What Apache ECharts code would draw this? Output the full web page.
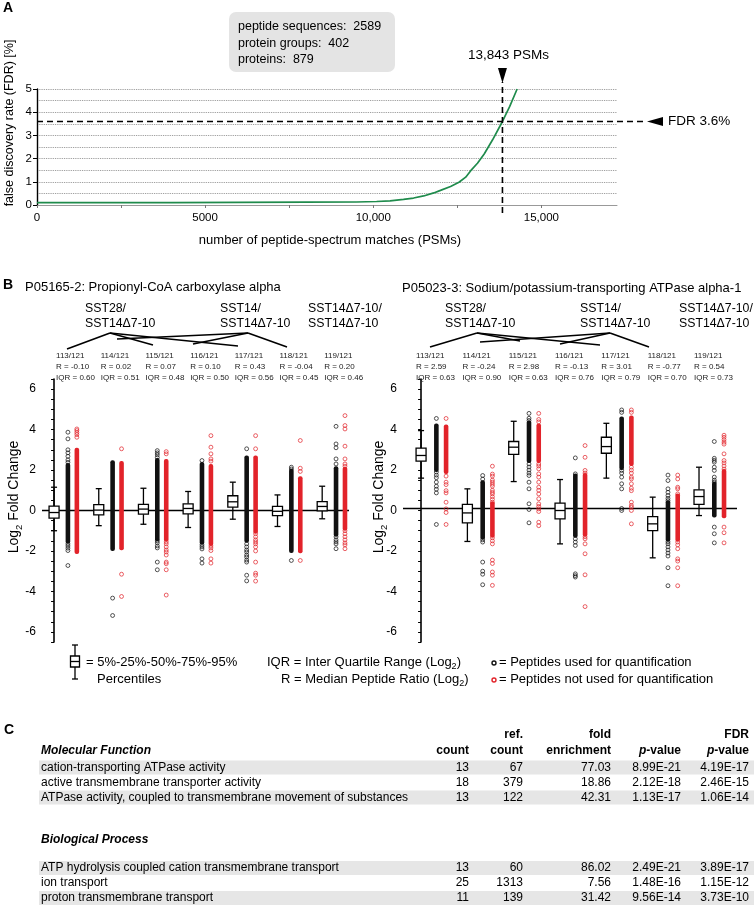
<!DOCTYPE html>
<html><head><meta charset="utf-8">
<script src="https://cdn.jsdelivr.net/npm/echarts@6.0.0/dist/echarts.min.js"></script>
<style>html,body{margin:0;padding:0;background:#fff;}#chart{width:754px;height:913px;}</style>
</head><body><div id="chart"></div>
<script>
// ================= Panel A data =================
const psmX = [0, 2000, 4000, 6000, 8000, 9500, 10100, 10500, 10900, 11200, 11500, 11800, 12000, 12300, 12550, 12750, 12900, 13100, 13300, 13550, 13843, 14060, 14280];
const fdrY = [0.10, 0.10, 0.10, 0.11, 0.12, 0.13, 0.15, 0.18, 0.24, 0.30, 0.39, 0.52, 0.63, 0.80, 0.98, 1.20, 1.48, 1.80, 2.20, 2.81, 3.60, 4.25, 5.00];
const psmCutoff = 13843;
const fdrCutoff = 3.6;
const psmCutoffLabel = '13,843 PSMs';
const fdrCutoffLabel = 'FDR 3.6%';
const summaryLines = ['peptide sequences:  2589', 'protein groups:  402', 'proteins:  879'];
const psmTickLabels = {0: '0', 5000: '5000', 10000: '10,000', 15000: '15,000'};

// ================= Panel B data =================
const channels = ['113/121', '114/121', '115/121', '116/121', '117/121', '118/121', '119/121'];
const leftTitle = 'P05165-2: Propionyl-CoA carboxylase alpha';
const rightTitle = 'P05023-3: Sodium/potassium-transporting ATPase alpha-1';
const ratioHeaders = [['SST28/', 'SST14\u03947-10'], ['SST14/', 'SST14\u03947-10'], ['SST14\u03947-10/', 'SST14\u03947-10']];
const leftR = ['-0.10', '0.02', '0.07', '0.10', '0.43', '-0.04', '0.20'];
const leftIQR = ['0.60', '0.51', '0.48', '0.50', '0.56', '0.45', '0.46'];
const rightR = ['2.59', '-0.24', '2.98', '-0.13', '3.01', '-0.77', '0.54'];
const rightIQR = ['0.63', '0.90', '0.63', '0.76', '0.79', '0.70', '0.73'];
const log2Ticks = [-6, -4, -2, 0, 2, 4, 6];
const zeroLeft = 0;
const zeroRight = 0.1;
// [5%, 25%, 50%, 75%, 95%]
const leftBox = [
  [-1.00, -0.38, -0.10, 0.22, 1.15],
  [-0.75, -0.22, 0.02, 0.29, 1.08],
  [-0.68, -0.18, 0.07, 0.30, 1.10],
  [-0.84, -0.17, 0.10, 0.33, 0.94],
  [-0.43, 0.17, 0.43, 0.73, 1.40],
  [-0.79, -0.25, -0.04, 0.20, 0.77],
  [-0.41, -0.02, 0.20, 0.44, 1.20]
];
const rightBox = [
  [1.60, 2.44, 2.72, 3.08, 3.95],
  [-1.53, -0.61, -0.12, 0.30, 1.07],
  [1.43, 2.77, 3.13, 3.41, 4.41],
  [-1.65, -0.41, 0.00, 0.36, 1.53],
  [1.60, 2.83, 3.16, 3.62, 4.31],
  [-2.34, -0.99, -0.66, -0.30, 0.66],
  [-0.25, 0.30, 0.69, 1.02, 2.14]
];
// dense runs of overlapping peptides [low, high]
const leftUsedDense = [[-1.55, 2.25], [-1.9, 2.38], [-1.42, 2.5], [-1.6, 2.3], [-1.5, 2.62], [-2.0, 1.97], [-1.2, 2.09]];
const leftNotDense = [[-2.05, 3.0], [-1.87, 2.35], [-1.45, 2.45], [-1.65, 2.2], [-1.05, 2.62], [-2.02, 1.6], [-0.9, 2.06]];
const rightUsedDense = [[2.0, 4.2], [-1.35, 1.4], [2.45, 4.35], [-1.25, 1.73], [2.1, 4.55], [-1.45, 0.41], [-0.25, 1.32]];
const rightNotDense = [[1.9, 4.15], [-1.25, 0.35], [2.45, 4.2], [-1.2, 1.75], [2.3, 4.6], [-1.45, 0.74], [-0.28, 1.95]];
// separate peptides
const leftUsedPts = [
  [3.87, 3.54, 3.0, 2.85, 2.68, 2.5, 2.38, -1.65, -1.75, -1.86, -1.98, -2.72],
  [-4.33, -5.19],
  [2.96, 2.85, 2.75, 2.62, -1.5, -1.6, -1.75, -1.85, -2.55, -2.93],
  [2.47, -1.7, -1.8, -1.9, -2.39, -2.6],
  [3.05, -1.65, -1.8, -1.95, -2.05, -2.2, -2.3, -2.45, -2.55, -3.2, -3.48],
  [2.14, 2.05, -2.47],
  [4.16, 3.29, 3.1, 2.55, 2.3, -1.3, -1.45, -1.55, -1.65, -1.89]
];
const leftNotPts = [
  [4.03, 3.95, 3.85, 3.75, 3.62],
  [3.05, -3.15, -4.25],
  [2.91, 2.8, -1.55, -1.65, -1.8, -1.95, -2.05, -2.2, -2.55, -2.63, -2.93, -4.18],
  [3.7, 3.13, 2.8, 2.55, 2.44, -1.75, -1.85, -1.98, -2.39, -2.6],
  [3.7, 3.05, -1.15, -1.3, -1.45, -1.55, -1.65, -1.8, -2.0, -2.55, -3.1, -3.2, -3.49],
  [3.46, 2.09, 1.93, -2.47],
  [4.69, 4.2, 4.03, 3.18, 2.55, 2.3, 2.19, -1.0, -1.15, -1.3, -1.45, -1.6, -1.7, -1.89]
];
const rightUsedPts = [
  [4.55, 1.9, 1.75, 1.62, 1.4, 1.2, 1.05, 0.87, -0.69],
  [1.73, 1.55, -1.45, -1.56, -2.55, -3.0, -3.15, -3.67],
  [4.8, 4.56, 4.45, 2.3, 2.15, 2.0, 1.85, 1.73, 1.4, 1.07, 0.33, 0.05, -0.61],
  [2.6, 1.81, -1.4, -1.56, -1.73, -3.13, -3.22, -3.29],
  [4.97, 4.85, 1.98, 1.85, 1.65, 1.32, 1.07, 0.1, 0.0],
  [1.75, 1.48, 1.07, 0.9, 0.74, 0.6, 0.49, -1.55, -1.65, -1.8, -1.95, -2.1, -2.25, -2.83, -3.72],
  [3.41, 2.58, 2.48, 2.39, 2.14, 1.98, 1.65, 1.5, 1.4, -0.82, -1.15, -1.6]
];
const rightNotPts = [
  [4.55, 1.7, 1.4, 1.28, 0.98, 0.87, 0.41, 0.08, -0.1, -0.69],
  [2.19, 1.8, 1.7, 1.5, 1.4, 1.3, 1.2, 1.0, 0.9, 0.82, 0.68, 0.55, 0.41, -1.35, -1.5, -1.65, -2.45, -2.62, -3.04, -3.2, -3.7],
  [4.8, 4.5, 4.38, 2.3, 2.2, 2.06, 1.81, 1.65, 1.4, 1.15, 1.0, 0.82, 0.58, 0.33, 0.2, 0.08, -0.05, -0.58, -0.75],
  [3.21, 2.63, 1.98, 1.85, -1.3, -1.4, -1.65, -2.14, -3.18, -4.75],
  [4.97, 4.85, 2.14, 2.0, 1.85, 1.65, 1.56, 1.32, 1.1, 0.98, 0.41, 0.25, 0.16, 0.0, -0.66],
  [1.75, 1.56, 1.15, 1.07, 0.82, -1.56, -1.7, -1.89, -2.39, -2.5, -2.83, -3.72],
  [3.72, 3.62, 3.5, 3.38, 3.28, 2.8, 2.47, 2.35, 2.2, 2.05, -0.82, -1.1, -1.6]
];

// ================= Panel C data =================
const colHeads1 = ['', '', 'ref.', 'fold', '', 'FDR'];
const colHeads2 = ['Molecular Function', 'count', 'count', 'enrichment', 'p-value', 'p-value'];
const mfTerms = ['cation-transporting ATPase activity', 'active transmembrane transporter activity', 'ATPase activity, coupled to transmembrane movement of substances'];
const mfCount = [13, 18, 13];
const mfRef = [67, 379, 122];
const mfFold = ['77.03', '18.86', '42.31'];
const mfP = ['8.99E-21', '2.12E-18', '1.13E-17'];
const mfFdr = ['4.19E-17', '2.46E-15', '1.06E-14'];
const bpHead = 'Biological Process';
const bpTerms = ['ATP hydrolysis coupled cation transmembrane transport', 'ion transport', 'proton transmembrane transport'];
const bpCount = [13, 25, 11];
const bpRef = [60, 1313, 139];
const bpFold = ['86.02', '7.56', '31.42'];
const bpP = ['2.49E-21', '1.48E-16', '9.56E-14'];
const bpFdr = ['3.89E-17', '1.15E-12', '3.73E-10'];

// ================= styling =================
const SANS = '"Liberation Sans", Arial, Helvetica, sans-serif';
function fontInstalled(name) {
  const c = document.createElement('canvas').getContext('2d');
  const s = 'mmmmmmmmmwwwwwlliIIabcdefg';
  c.font = '40px monospace'; const w0 = c.measureText(s).width;
  c.font = '40px "' + name + '", monospace'; const w1 = c.measureText(s).width;
  return Math.abs(w0 - w1) > 0.5;
}
const HAS_NARROW = fontInstalled('Liberation Sans Narrow');
const NARROW = HAS_NARROW ? '"Liberation Sans Narrow", "Arial Narrow", sans-serif' : SANS;
const TBL_SIZE = HAS_NARROW ? 14.5 : 12;
const BLACK = '#111';
const RED = '#e2232a';
const GREEN = '#1f8b4c';

const chart = echarts.init(document.getElementById('chart'), null, {renderer: 'canvas', width: 754, height: 913});

const B_LEFT = {xMin: -0.27, xMax: 6.60, off: [0.31, 0.51]};
const B_RIGHT = {xMin: -0.39, xMax: 6.82, off: [0.33, 0.54]};

function boxRender(params, api) {
  const x = api.value(0);
  const cx = api.coord([x, 0])[0];
  const p = [1, 2, 3, 4, 5].map(k => api.coord([x, api.value(k)])[1]);
  const bw = 10, cw = 6, st = {stroke: '#000', lineWidth: 1.3};
  return {type: 'group', children: [
    {type: 'line', shape: {x1: cx, y1: p[4], x2: cx, y2: p[3]}, style: st},
    {type: 'line', shape: {x1: cx, y1: p[1], x2: cx, y2: p[0]}, style: st},
    {type: 'line', shape: {x1: cx - cw / 2, y1: p[4], x2: cx + cw / 2, y2: p[4]}, style: st},
    {type: 'line', shape: {x1: cx - cw / 2, y1: p[0], x2: cx + cw / 2, y2: p[0]}, style: st},
    {type: 'rect', shape: {x: cx - bw / 2, y: p[3], width: bw, height: p[1] - p[3]}, style: {fill: '#fff', stroke: '#000', lineWidth: 1.3}},
    {type: 'line', shape: {x1: cx - bw / 2, y1: p[2], x2: cx + bw / 2, y2: p[2]}, style: st}
  ]};
}
function denseRender(params, api) {
  const x = api.value(0);
  const top = api.coord([x, api.value(2)]);
  const bot = api.coord([x, api.value(1)]);
  const col = api.value(3) === 0 ? BLACK : RED;
  return {type: 'rect', shape: {x: top[0] - 2.3, y: top[1] - 2, width: 4.6, height: bot[1] - top[1] + 4, r: 2}, style: {fill: col}};
}

function panelSeries(idx, cfg, box, uDense, uPts, nDense, nPts, zero) {
  const ax = {xAxisIndex: idx, yAxisIndex: idx};
  const denseData = [];
  uDense.forEach((d, i) => denseData.push([i + cfg.off[0], d[0], d[1], 0]));
  nDense.forEach((d, i) => denseData.push([i + cfg.off[1], d[0], d[1], 1]));
  const uData = [], nData = [];
  uPts.forEach((arr, i) => arr.forEach(v => uData.push([i + cfg.off[0], v])));
  nPts.forEach((arr, i) => arr.forEach(v => nData.push([i + cfg.off[1], v])));
  const sym = (c) => ({type: 'scatter', symbol: 'circle', symbolSize: 3.9, silent: true,
    itemStyle: {color: 'rgba(255,255,255,0)', borderColor: c, borderWidth: 0.9}});
  return [
    Object.assign({type: 'line', data: [[cfg.xMin, zero], [cfg.xMax, zero]], symbol: 'none', silent: true,
      lineStyle: {color: '#000', width: 1.3}, z: 1}, ax),
    Object.assign({type: 'custom', renderItem: denseRender, data: denseData, silent: true, z: 2}, ax),
    Object.assign(sym(BLACK), {data: uData, z: 3}, ax),
    Object.assign(sym(RED), {data: nData, z: 3}, ax),
    Object.assign({type: 'custom', renderItem: boxRender, data: box.map((b, i) => [i].concat(b)), silent: true, z: 4}, ax)
  ];
}

const bYAxis = (gi) => ({
  type: 'value', gridIndex: gi, min: -6.5, max: 6.5, interval: 0.5,
  axisLine: {show: true, lineStyle: {color: '#000', width: 1.6}},
  axisTick: {show: true, length: 3, lineStyle: {color: '#000', width: 1}},
  axisLabel: {color: '#000', fontSize: 12, fontFamily: SANS, margin: 6,
    formatter: v => (log2Ticks.indexOf(v) >= 0 ? String(v) : '')},
  splitLine: {show: false}
});

const option = {
  animation: false,
  backgroundColor: '#fff',
  grid: [
    {left: 37, top: 89, width: 580, height: 116},
    {left: 42, top: 379, width: 307, height: 263},
    {left: 403, top: 379, width: 334, height: 263}
  ],
  xAxis: [
    {type: 'value', gridIndex: 0, min: 0, max: 17250, interval: 2500,
      axisLine: {show: true, lineStyle: {color: '#999', width: 1}},
      axisTick: {show: true, length: 3, lineStyle: {color: '#777'}},
      axisLabel: {color: '#000', fontSize: 11.5, fontFamily: SANS, margin: 7, showMaxLabel: false,
        formatter: v => (psmTickLabels[v] !== undefined ? psmTickLabels[v] : '')},
      splitLine: {show: false}},
    {type: 'value', gridIndex: 1, min: B_LEFT.xMin, max: B_LEFT.xMax, show: false},
    {type: 'value', gridIndex: 2, min: B_RIGHT.xMin, max: B_RIGHT.xMax, show: false}
  ],
  yAxis: [
    {type: 'value', gridIndex: 0, min: 0, max: 5, interval: 1,
      axisLine: {show: true, lineStyle: {color: '#000', width: 1.4}},
      axisTick: {show: true, length: 4, lineStyle: {color: '#000'}},
      axisLabel: {color: '#000', fontSize: 11.5, fontFamily: SANS, margin: 5},
      splitLine: {show: true, lineStyle: {type: 'dotted', color: '#888', width: 0.9}},
      minorTick: {show: false, splitNumber: 2},
      minorSplitLine: {show: true, lineStyle: {type: 'dotted', color: '#888', width: 0.9}}},
    bYAxis(1), bYAxis(2)
  ],
  series: [
    {type: 'line', xAxisIndex: 0, yAxisIndex: 0, data: psmX.map((x, i) => [x, fdrY[i]]),
      symbol: 'none', lineStyle: {color: GREEN, width: 1.7}, silent: true, z: 3}
  ].concat(
    panelSeries(1, B_LEFT, leftBox, leftUsedDense, leftUsedPts, leftNotDense, leftNotPts, zeroLeft),
    panelSeries(2, B_RIGHT, rightBox, rightUsedDense, rightUsedPts, rightNotDense, rightNotPts, zeroRight)
  )
};
chart.setOption(option);

// ================= annotations (graphic) =================
const G = [];
function T(x, y, text, size, extra, rot) {
  const el = {type: 'text', x: x, y: y, z: 50, silent: true,
    style: Object.assign({text: text, fill: '#000', fontSize: size, fontFamily: SANS, align: 'left', verticalAlign: 'middle'}, extra || {})};
  if (rot) el.rotation = rot;
  G.push(el);
}
function L(x1, y1, x2, y2, w, dash, col) {
  G.push({type: 'line', z: 40, silent: true, shape: {x1: x1, y1: y1, x2: x2, y2: y2},
    style: {stroke: col || '#000', lineWidth: w || 1, lineDash: dash || null}});
}
function P(pts, col) { G.push({type: 'polygon', z: 41, silent: true, shape: {points: pts}, style: {fill: col || '#000'}}); }

// ---- Panel A ----
T(3, 8, 'A', 14, {fontWeight: 'bold'});
G.push({type: 'rect', z: 5, silent: true, shape: {x: 229, y: 12, width: 166, height: 60, r: 7}, style: {fill: '#e4e4e4'}});
summaryLines.forEach((s, i) => T(238, 27 + i * 16.3, s, 12.5));
T(10, 123, 'false discovery rate (FDR) [%]', 12.5, {align: 'center'}, Math.PI / 2);
T(330, 240, 'number of peptide-spectrum matches (PSMs)', 13, {align: 'center'});
const cut = chart.convertToPixel({gridIndex: 0}, [psmCutoff, fdrCutoff]);
const aBase = chart.convertToPixel({gridIndex: 0}, [0, -0.35]);
L(aBase[0], cut[1], 643, cut[1], 1.6, [6, 4]);
L(cut[0], aBase[1], cut[0], 82, 1.6, [6, 4]);
P([[cut[0] - 4.5, 68], [cut[0] + 4.5, 68], [cut[0], 83]]);
P([[647, cut[1]], [663, cut[1] - 4.5], [663, cut[1] + 4.5]]);
T(cut[0] + 6, 55, psmCutoffLabel, 13.5, {align: 'center'});
T(668, cut[1], fdrCutoffLabel, 13.5);

// ---- Panel B ----
T(3, 285, 'B', 14, {fontWeight: 'bold'});
T(25, 287, leftTitle, 13);
T(402, 288, rightTitle, 13);
const hdrX = [[85, 220, 308], [445, 580, 679]];
hdrX.forEach(xs => xs.forEach((x, k) => { T(x, 309, ratioHeaders[k][0], 12.3); T(x, 323.5, ratioHeaders[k][1], 12.3); }));
const crossLines = [
  [[110, 333], [[67, 349], [153, 345], [238, 346]]],
  [[248, 333], [[117, 339], [193, 344], [287, 347]]],
  [[477, 333], [[430, 347], [520, 341], [600, 345]]],
  [[610, 333], [[480, 342], [560, 344], [649, 347]]]
];
crossLines.forEach(cl => cl[1].forEach(e => L(cl[0][0], cl[0][1], e[0], e[1], 1.6)));
const panels = [{gi: 1, R: leftR, IQR: leftIQR, dx: 2}, {gi: 2, R: rightR, IQR: rightIQR, dx: -5}];
panels.forEach(pn => {
  channels.forEach((ch, i) => {
    const px = chart.convertToPixel({gridIndex: pn.gi}, [i, 0])[0] + pn.dx;
    T(px, 356, ch, 8, {fill: '#222'});
    T(px, 366.5, 'R = ' + pn.R[i], 8, {fill: '#222'});
    T(px, 377.5, 'IQR = ' + pn.IQR[i], 8, {fill: '#222'});
  });
});
const logRich = {a: {fontSize: 14, fontFamily: SANS, lineHeight: 20, fill: '#000'}, s: {fontSize: 9.5, fontFamily: SANS, lineHeight: 11, verticalAlign: 'bottom', fill: '#000'}};
T(14, 497, '{a|Log}{s|2}{a| Fold Change}', 14, {align: 'center', rich: logRich}, Math.PI / 2);
T(379, 497, '{a|Log}{s|2}{a| Fold Change}', 14, {align: 'center', rich: logRich}, Math.PI / 2);

// legend
const lx = 75;
L(lx, 645, lx, 656, 1.3); L(lx, 667, lx, 679, 1.3);
L(lx - 3, 645, lx + 3, 645, 1.3); L(lx - 3, 679, lx + 3, 679, 1.3);
G.push({type: 'rect', z: 40, silent: true, shape: {x: lx - 4.5, y: 656, width: 9, height: 11}, style: {fill: '#fff', stroke: '#000', lineWidth: 1.3}});
L(lx - 4.5, 661.5, lx + 4.5, 661.5, 1.3);
T(86, 662, '= 5%-25%-50%-75%-95%', 13);
T(97, 679, 'Percentiles', 13);
const legRich = {a: {fontSize: 13, fontFamily: SANS, lineHeight: 18, fill: '#000'}, s: {fontSize: 9, fontFamily: SANS, lineHeight: 10, verticalAlign: 'bottom', fill: '#000'}};
T(267, 662, '{a|IQR = Inter Quartile Range (Log}{s|2}{a|)}', 13, {rich: legRich});
T(281, 679, '{a|R = Median Peptide Ratio (Log}{s|2}{a|)}', 13, {rich: legRich});
G.push({type: 'circle', z: 40, silent: true, shape: {cx: 494, cy: 663, r: 2}, style: {fill: 'none', stroke: BLACK, lineWidth: 1.4}});
G.push({type: 'circle', z: 40, silent: true, shape: {cx: 494, cy: 680, r: 2}, style: {fill: 'none', stroke: RED, lineWidth: 1.4}});
T(499, 662, '= Peptides used for quantification', 13);
T(499, 679, '= Peptides not used for quantification', 13);

// ---- Panel C ----
T(4, 730, 'C', 14, {fontWeight: 'bold'});
const colRight = [469, 523, 611, 681, 749];
const TF = {fontFamily: NARROW};
const TB = {fontFamily: NARROW, fontWeight: 'bold'};
const pRich = {i: {fontSize: TBL_SIZE, fontFamily: NARROW, fontWeight: 'bold', fontStyle: 'italic', fill: '#000'},
  b: {fontSize: TBL_SIZE, fontFamily: NARROW, fontWeight: 'bold', fill: '#000'}};
colHeads1.forEach((h, k) => { if (h && k > 0) T(colRight[k - 1], 735, h, TBL_SIZE, Object.assign({align: 'right'}, TB)); });
colHeads2.forEach((h, k) => {
  if (k === 0) { T(41, 751, h, TBL_SIZE, Object.assign({fontStyle: 'italic'}, TB)); return; }
  if (h.indexOf('p-') === 0) T(colRight[k - 1], 751, '{i|p}{b|-value}', TBL_SIZE, {align: 'right', rich: pRich});
  else T(colRight[k - 1], 751, h, TBL_SIZE, Object.assign({align: 'right'}, TB));
});
function tableRow(y, cells, shade) {
  if (shade) G.push({type: 'rect', z: 2, silent: true, shape: {x: 39, y: y - 6.9, width: 715, height: 13.8}, style: {fill: '#e6e6e6'}});
  T(41, y, cells[0], TBL_SIZE, TF);
  for (let k = 1; k < cells.length; k++) T(colRight[k - 1], y, String(cells[k]), TBL_SIZE, Object.assign({align: 'right'}, TF));
}
const mfY = [767.5, 782.5, 797.5];
mfTerms.forEach((t, i) => tableRow(mfY[i], [t, mfCount[i], mfRef[i], mfFold[i], mfP[i], mfFdr[i]], i !== 1));
T(41, 840, bpHead, TBL_SIZE, Object.assign({fontStyle: 'italic'}, TB));
const bpY = [868, 883, 898];
bpTerms.forEach((t, i) => tableRow(bpY[i], [t, bpCount[i], bpRef[i], bpFold[i], bpP[i], bpFdr[i]], i !== 1));

chart.setOption({graphic: G});
</script></body></html>
